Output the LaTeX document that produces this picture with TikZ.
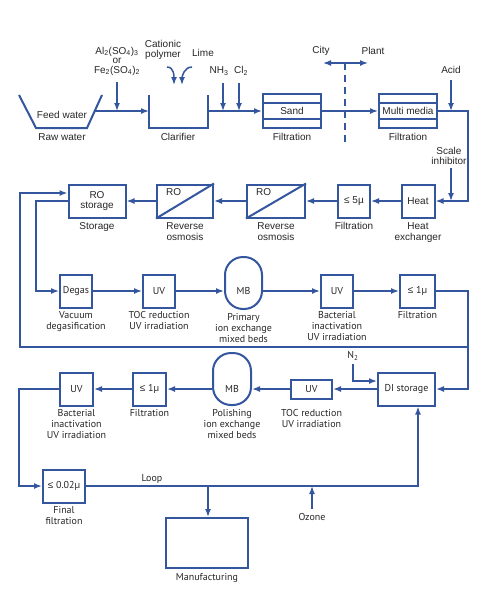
\documentclass[tikz,border=0pt]{standalone}
\usepackage{fontspec}
\setmainfont{Liberation Sans}
\newfontfamily\ptsans{PT Sans}
\usetikzlibrary{arrows.meta}
\definecolor{flowblue}{RGB}{52,86,158}
\newcommand{\lesym}{{\rmfamily ≤}}

\tikzset{
  every node/.style={text=black!85},
  helv/.style={font=\fontsize{10}{10.5}\selectfont},
  myr/.style={font=\ptsans\fontsize{10}{11}\selectfont},
  unit/.style={draw=flowblue, line width=2pt, inner sep=0pt, minimum height=33pt},
  capsule/.style={draw=flowblue, line width=2pt, inner sep=0pt, rounded corners=18pt, minimum width=37pt, minimum height=52pt},
  pipe/.style={draw=flowblue, line width=1.5pt},
  feed/.style={pipe, -{Latex[length=8pt,width=6pt]}},
  undertext/.style={align=center, inner sep=0pt},
}

\begin{document}
\begin{tikzpicture}[x=1pt, y=-1pt]
\useasboundingbox (0,0) rectangle (491,600);

\begin{scope}[helv]
% raw water tank and clarifier
\draw[pipe, line width=2pt] (19,95) -- (36,128) -- (87,128) -- (102,95);
\node (feedw) at (62,115) {Feed water};
\node (raww) at (62,137) {Raw water};
\coordinate (tankout) at (95,111);
\draw[pipe, line width=2pt] (149,95) -- (149,128) -- (208,128) -- (208,95);
\coordinate (clarin) at (149,111);
\coordinate (clarout) at (208,111);
\node (clar) at (178,137) {Clarifier};
\draw[feed] (tankout) -- (clarin);

\node[align=center, font=\fontsize{10}{9.5}\selectfont] (alum) at (117,61) {Al\textsubscript{2}(SO\textsubscript{4})\textsubscript{3}\\or\\Fe\textsubscript{2}(SO\textsubscript{4})\textsubscript{2}};
\coordinate (alumin) at (117,82);
\draw[feed] (alumin) -- (alumin |- clarin);

\node[align=center] (polymer) at (163,50) {Cationic\\polymer};
\node (lime) at (203,53) {Lime};
\coordinate (polyin) at (167,67);
\coordinate (limein) at (192,67);
\draw[feed] (polyin) to[out=0,in=90] (174,85);
\draw[feed] (limein) to[out=180,in=90] (182,85);

\node (nh3) at (219,71) {NH\textsubscript{3}};
\node (cl2) at (241,71) {Cl\textsubscript{2}};
\coordinate (nh3in) at (223,83);
\coordinate (cl2in) at (239,83);
\draw[feed] (nh3in) -- (nh3in |- clarout);
\draw[feed] (cl2in) -- (cl2in |- clarout);

% filtration
\node[unit, minimum width=58pt, minimum height=34pt] (sand) at (292,111) {Sand};
\draw[pipe, line width=2pt] ([yshift=8pt]sand.west) -- ([yshift=8pt]sand.east);
\draw[pipe, line width=2pt] ([yshift=-8pt]sand.west) -- ([yshift=-8pt]sand.east);
\node[undertext, below=4pt] at (sand.south) {Filtration};
\draw[feed] (clarout) -- (sand.west);

\node[unit, minimum width=58pt, minimum height=34pt] (media) at (408,111) {Multi media};
\draw[pipe, line width=2pt] ([yshift=8pt]media.west) -- ([yshift=8pt]media.east);
\draw[pipe, line width=2pt] ([yshift=-8pt]media.west) -- ([yshift=-8pt]media.east);
\node[undertext, below=4pt] at (media.south) {Filtration};
\draw[feed] (sand.east) -- (media.west);

% city / plant border
\coordinate (border) at (345,63);
\draw[pipe, dash pattern=on 7pt off 5pt] (border) -- (345,142);
\draw[feed] (border) -- (323,63);
\draw[feed] (border) -- (368,63);
\node (city) at (321,51) {City};
\node (plant) at (373,51) {Plant};

\node (acid) at (451,70) {Acid};
\coordinate (acidin) at (451,80);
\draw[feed] (acidin) -- (acidin |- media.east);

% row 2
\node[unit, minimum width=33pt] (heat) at (418,201) {Heat};
\node[undertext, below=4pt] at (heat.south) {Heat\\exchanger};
\coordinate (turn1) at (468,111);
\coordinate (turn2) at (468,201);
\draw[feed] (media.east) -- (turn1) -- (turn2) -- (heat.east);
\node[align=center] (scale) at (449,156) {Scale\\inhibitor};
\coordinate (scalein) at (451,168);
\draw[feed] (scalein) -- (scalein |- heat.east);

\node[unit, minimum width=32pt] (filt5) at (354,201) {≤ 5µ};
\node[undertext, below=4pt] at (filt5.south) {Filtration};
\draw[feed] (heat.west) -- (filt5.east);

\node[unit, minimum width=58pt] (ro2) at (276,201) {};
\draw[pipe, line width=2pt] (ro2.south west) -- (ro2.north east);
\node[anchor=north west, inner sep=0pt] at ([xshift=10pt,yshift=-5pt]ro2.north west) {RO};
\node[undertext, below=4pt] at (ro2.south) {Reverse\\osmosis};
\draw[feed] (filt5.west) -- (ro2.east);

\node[unit, minimum width=56pt] (ro1) at (185,201) {};
\draw[pipe, line width=2pt] (ro1.south west) -- (ro1.north east);
\node[anchor=north west, inner sep=0pt] at ([xshift=10pt,yshift=-5pt]ro1.north west) {RO};
\node[undertext, below=4pt] at (ro1.south) {Reverse\\osmosis};
\draw[feed] (ro2.west) -- (ro1.east);

\node[unit, minimum width=57pt, align=center] (rost) at (97,201) {RO\\storage};
\node[undertext, below=4pt] at (rost.south) {Storage};
\draw[feed] (ro1.west) -- (rost.east);
\end{scope}

\begin{scope}[myr]
% row 3
\node[unit, minimum width=32pt] (degas) at (76,291) {Degas};
\node[undertext, below=3pt] at (degas.south) {Vacuum\\degasification};
\coordinate (turn3) at (36,201);
\coordinate (turn4) at (36,291);
\draw[feed] (rost.west) -- (turn3) -- (turn4) -- (degas.west);

\node[unit, minimum width=32pt] (uv1) at (159,291) {UV};
\node[undertext, below=3pt] at (uv1.south) {TOC reduction\\UV irradiation};
\draw[feed] (degas.east) -- (uv1.west);

\node[capsule] (mb1) at (243.5,283) {};
\node at (243.5,291) {MB};
\node[undertext, below=3pt] at (mb1.south) {Primary\\ion exchange\\mixed beds};
\draw[feed] (uv1.east) -- (uv1.east -| mb1.west);

\node[unit, minimum width=32pt] (uv2) at (337,291) {UV};
\node[undertext, below=3pt] at (uv2.south) {Bacterial\\inactivation\\UV irradiation};
\draw[feed] (uv2.west -| mb1.east) -- (uv2.west);

\node[unit, minimum width=35pt] (filt1) at (417.5,291) {\lesym{} 1µ};
\node[undertext, below=3pt] at (filt1.south) {Filtration};
\draw[feed] (uv2.east) -- (filt1.west);

% row 4
\node[unit, minimum width=57pt] (di) at (406.5,389) {DI storage};
\coordinate (turn5) at (468,291);
\coordinate (turn6) at (468,389);
\draw[feed] (filt1.east) -- (turn5) -- (turn6) -- (di.east);

% return to RO storage
\coordinate (loopa) at (468,347);
\coordinate (loopb) at (20,347);
\coordinate (loopc) at (20,193);
\draw[feed] (loopa) -- (loopb) -- (loopc) -- (rost.west |- loopc);

\node (n2) at (353,356) {N\textsubscript{2}};
\coordinate (n2a) at (353,364);
\coordinate (n2b) at (353,381);
\draw[feed] (n2a) -- (n2b) -- (n2b -| di.west);

\node[unit, minimum width=41pt, minimum height=19pt] (uv3) at (311.5,389) {UV};
\node[undertext, below=10pt] at (uv3.south) {TOC reduction\\UV irradiation};
\draw[feed] (di.west) -- (uv3.east);

\node[capsule, minimum width=38pt] (mb2) at (232,379) {};
\node at (232,389) {MB};
\node[undertext, below=3pt] at (mb2.south) {Polishing\\ion exchange\\mixed beds};
\draw[feed] (uv3.west) -- (uv3.west -| mb2.east);

\node[unit, minimum width=33pt] (filt2) at (149.5,389) {\lesym{} 1µ};
\node[undertext, below=3pt] at (filt2.south) {Filtration};
\draw[feed] (filt2.east -| mb2.west) -- (filt2.east);

\node[unit, minimum width=33pt] (uv4) at (76.5,389) {UV};
\node[undertext, below=3pt] at (uv4.south) {Bacterial\\inactivation\\UV irradiation};
\draw[feed] (filt2.west) -- (uv4.east);

% loop
\node[unit, minimum width=42pt] (final) at (64,486) {\lesym{} 0.02µ};
\node[undertext, below=3pt] at (final.south) {Final\\filtration};
\coordinate (turn7) at (19,389);
\coordinate (turn8) at (19,486);
\draw[feed] (uv4.west) -- (turn7) -- (turn8) -- (final.west);

\coordinate (turn9) at (418,486);
\draw[feed] (final.east) -- (turn9) -- (turn9 |- di.south);
\node (looplbl) at (152,479) {Loop};

\node[unit, minimum width=82pt, minimum height=50pt] (manu) at (207,543) {};
\node[undertext, below=4pt] at (manu.south) {Manufacturing};
\coordinate (tap) at (208,486);
\draw[feed] (tap) -- (tap |- manu.north);

\node (ozone) at (312,517) {Ozone};
\coordinate (ozin) at (312,509);
\draw[feed] (ozin) -- (ozin |- tap);
\end{scope}

\end{tikzpicture}
\end{document}
